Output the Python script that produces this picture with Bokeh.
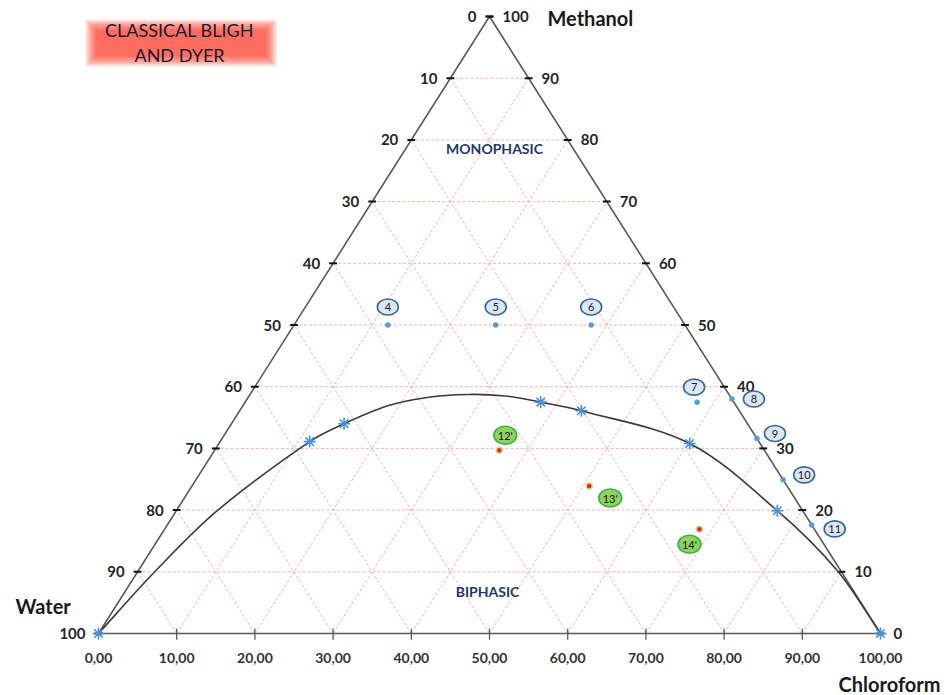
from bokeh.plotting import figure
from bokeh.models import Range1d
from bokeh.core.properties import value
from bokeh.embed import file_html
from bokeh.resources import INLINE

# ---------------- data (compositions in %, water = 100 - chloroform - methanol) ----------------
levels = [0, 10, 20, 30, 40, 50, 60, 70, 80, 90, 100]
grid_levels = [10, 20, 30, 40, 50, 60, 70, 80, 90]
water_labels = ["100", "90", "80", "70", "60", "50", "40", "30", "20", "10", "0"]
methanol_labels = ["0", "10", "20", "30", "40", "50", "60", "70", "80", "90", "100"]
chloroform_labels = ["0,00", "10,00", "20,00", "30,00", "40,00", "50,00",
                     "60,00", "70,00", "80,00", "90,00", "100,00"]

# single-phase mixtures
mono_ids = ["4", "5", "6", "7", "8", "9", "10", "11"]
mono_chloroform = [12.0, 25.8, 38.0, 57.8, 62.0, 68.4, 75.1, 82.4]
mono_methanol = [50.0, 50.0, 50.0, 37.5, 38.0, 31.6, 24.9, 17.6]

# two-phase mixtures
bi_ids = ["12'", "13'", "14'"]
bi_chloroform = [36.4, 50.8, 68.4]
bi_methanol = [29.7, 23.9, 16.9]

# measured binodal points
binodal_chloroform = [0.0, 11.45, 14.4, 37.8, 43.7, 60.2, 76.85, 100.0]
binodal_methanol = [0.0, 31.1, 34.0, 37.5, 36.1, 30.8, 19.9, 0.0]

# binodal curve knots
curve_chloroform = [0.0, 2.15, 5.23, 11.45, 14.4, 18.55, 22.9, 27.78, 32.75, 37.8,
                    43.7, 60.2, 76.85, 89.36, 100.0]
curve_methanol = [0.0, 9.84, 19.9, 31.1, 34.0, 36.9, 38.25, 38.74, 38.5, 37.5,
                  36.1, 30.8, 19.9, 10.2, 0.0]

# ---------------- layout ----------------
W, H = 947, 695
SX, SY = 7.82, 6.17          # pixels per unit
OX, OY = 98, 633             # pixel position of the water corner

def tx(c, m):
    return c + m / 2.0

def px_x(px):
    return (px - OX) / SX

def px_y(py):
    return (OY - py) / SY

FONT = value("Lato")
EDGE = "#595959"
DARK = "#262626"

p = figure(width=W, height=H, output_backend="svg", toolbar_location=None,
           x_range=Range1d(px_x(0), px_x(W)), y_range=Range1d(px_y(H), px_y(0)),
           x_axis_location=None, y_axis_location=None, min_border=0)
p.grid.visible = False
p.outline_line_color = None
p.background_fill_color = "white"
p.border_fill_color = "white"

# title glow box (stacked translucent layers for a soft edge)
for i in range(10):
    g = 10 - 1.2 * i
    p.quad(left=px_x(95 - g), right=px_x(266 + g), top=px_y(29 - g), bottom=px_y(56 + g),
           fill_color="#FF2A1A", fill_alpha=0.11, line_color=None)
p.text(x=[px_x(179), px_x(179)], y=[px_y(29), px_y(54)], text=["CLASSICAL BLIGH", "AND DYER"],
       text_font=FONT, text_font_size="18px", text_color="#1A1A2E",
       text_align="center", text_baseline="middle")

# dashed ternary grid
gxs, gys = [], []
for k in grid_levels:
    gxs.append([k / 2.0, 100 - k / 2.0]); gys.append([k, k])
    gxs.append([k, (100 + k) / 2.0]); gys.append([0, 100 - k])
    gxs.append([100 - k, (100 - k) / 2.0]); gys.append([0, 100 - k])
p.multi_line(xs=gxs, ys=gys, line_color="#E9A3A3", line_alpha=0.8, line_width=1,
             line_dash="3 2")

# triangle frame
p.line(x=[0, 50, 100, 0], y=[0, 100, 0, 0], line_color=EDGE, line_width=1.6)

# edge ticks
lx = [m / 2.0 for m in levels]
rx = [100 - m / 2.0 for m in levels]
p.segment(x0=[v - 0.5 for v in lx], x1=[v + 0.5 for v in lx], y0=levels, y1=levels,
          line_color="#111111", line_width=2)
p.segment(x0=[v - 0.5 for v in rx], x1=[v + 0.5 for v in rx], y0=levels, y1=levels,
          line_color="#111111", line_width=2)
p.segment(x0=levels[1:-1], x1=levels[1:-1], y0=[0.8] * 9, y1=[-1.0] * 9,
          line_color=EDGE, line_width=1.3)

# tick labels
p.text(x=lx, y=levels, text=water_labels, x_offset=-13, text_font=FONT,
       text_font_size="15px", text_font_style="bold", text_color=DARK,
       text_align="right", text_baseline="middle")
p.text(x=rx, y=levels, text=methanol_labels, x_offset=13, text_font=FONT,
       text_font_size="15px", text_font_style="bold", text_color=DARK,
       text_align="left", text_baseline="middle")
p.text(x=levels, y=[0] * 11, text=chloroform_labels, y_offset=24, text_font=FONT,
       text_font_size="14px", text_font_style="bold", text_color="#333333",
       text_align="center", text_baseline="middle")

# component names
p.text(x=[px_x(547), px_x(15), px_x(838)], y=[px_y(17), px_y(605), px_y(683)],
       text=["Methanol", "Water", "Chloroform"], text_font=FONT, text_font_size="20px",
       text_font_style="bold", text_color="#1A1A1A", text_align="left",
       text_baseline="middle")

# region names
p.text(x=[px_x(494), px_x(487)], y=[px_y(148), px_y(591)], text=["MONOPHASIC", "BIPHASIC"],
       text_font=FONT, text_font_size="14px", text_font_style="bold", text_color="#1F3864",
       text_align="center", text_baseline="middle")

# binodal curve: smooth cubic segments through the knots (chord-weighted tangents)
cx = [tx(c, m) for c, m in zip(curve_chloroform, curve_methanol)]
cy = list(curve_methanol)
n = len(cx)
dist = [(((cx[i + 1] - cx[i]) * SX) ** 2 + ((cy[i + 1] - cy[i]) * SY) ** 2) ** 0.5
        for i in range(n - 1)]
x0s, y0s, x1s, y1s, c0x, c0y, c1x, c1y = [], [], [], [], [], [], [], []
for i in range(n - 1):
    a = max(i - 1, 0)
    d = min(i + 2, n - 1)
    da = dist[i - 1] if i > 0 else 0.0
    dd = dist[i + 1] if i + 2 < n else 0.0
    f0 = dist[i] / (3.0 * (da + dist[i]))
    f1 = dist[i] / (3.0 * (dist[i] + dd))
    x0s.append(cx[i]); y0s.append(cy[i]); x1s.append(cx[i + 1]); y1s.append(cy[i + 1])
    c0x.append(cx[i] + (cx[i + 1] - cx[a]) * f0); c0y.append(cy[i] + (cy[i + 1] - cy[a]) * f0)
    c1x.append(cx[i + 1] - (cx[d] - cx[i]) * f1); c1y.append(cy[i + 1] - (cy[d] - cy[i]) * f1)
p.bezier(x0=x0s, y0=y0s, x1=x1s, y1=y1s, cx0=c0x, cy0=c0y, cx1=c1x, cy1=c1y,
         line_color="#3A3A3A", line_width=1.6)

# binodal points
p.scatter(x=[tx(c, m) for c, m in zip(binodal_chloroform, binodal_methanol)],
          y=binodal_methanol, marker="asterisk", size=12, line_color="#4A8FD8",
          line_width=1.6)

# single-phase points with numbered labels
mx = [tx(c, m) for c, m in zip(mono_chloroform, mono_methanol)]
p.scatter(x=mx, y=mono_methanol, marker="circle", size=5.5, fill_color="#5B9BD5",
          line_color=None)
mono_dx = [0, 0, 0, -3, 22, 18, 21, 23]
mono_dy = [18, 18, 18, 15, 0, 5, 5, -4]
mlx = [x + dx / SX for x, dx in zip(mx, mono_dx)]
mly = [y + dy / SY for y, dy in zip(mono_methanol, mono_dy)]
p.ellipse(x=mlx, y=mly, width=21, height=16, width_units="screen", height_units="screen",
          fill_color="#DCE6F4", line_color="#3A6896", line_width=1.6)
p.text(x=mlx, y=mly, text=mono_ids, text_font=FONT, text_font_size="11px",
       text_color="#222222", text_align="center", text_baseline="middle")

# two-phase points with labels
bx = [tx(c, m) for c, m in zip(bi_chloroform, bi_methanol)]
p.scatter(x=bx, y=bi_methanol, marker="circle", size=6, fill_color="#E8241C",
          line_color="#C9D98F", line_width=1.5)
bi_dx = [6, 21, -10]
bi_dy = [15, -12, -15]
blx = [x + dx / SX for x, dx in zip(bx, bi_dx)]
bly = [y + dy / SY for y, dy in zip(bi_methanol, bi_dy)]
p.ellipse(x=blx, y=bly, width=23, height=18, width_units="screen", height_units="screen",
          fill_color="#8FD35C", line_color="#35B24A", line_width=1.5)
p.text(x=blx, y=bly, text=bi_ids, text_font=FONT, text_font_size="11px",
       text_color="#1A1A1A", text_align="center", text_baseline="middle")

open("out.html", "w").write(file_html(p, INLINE))
